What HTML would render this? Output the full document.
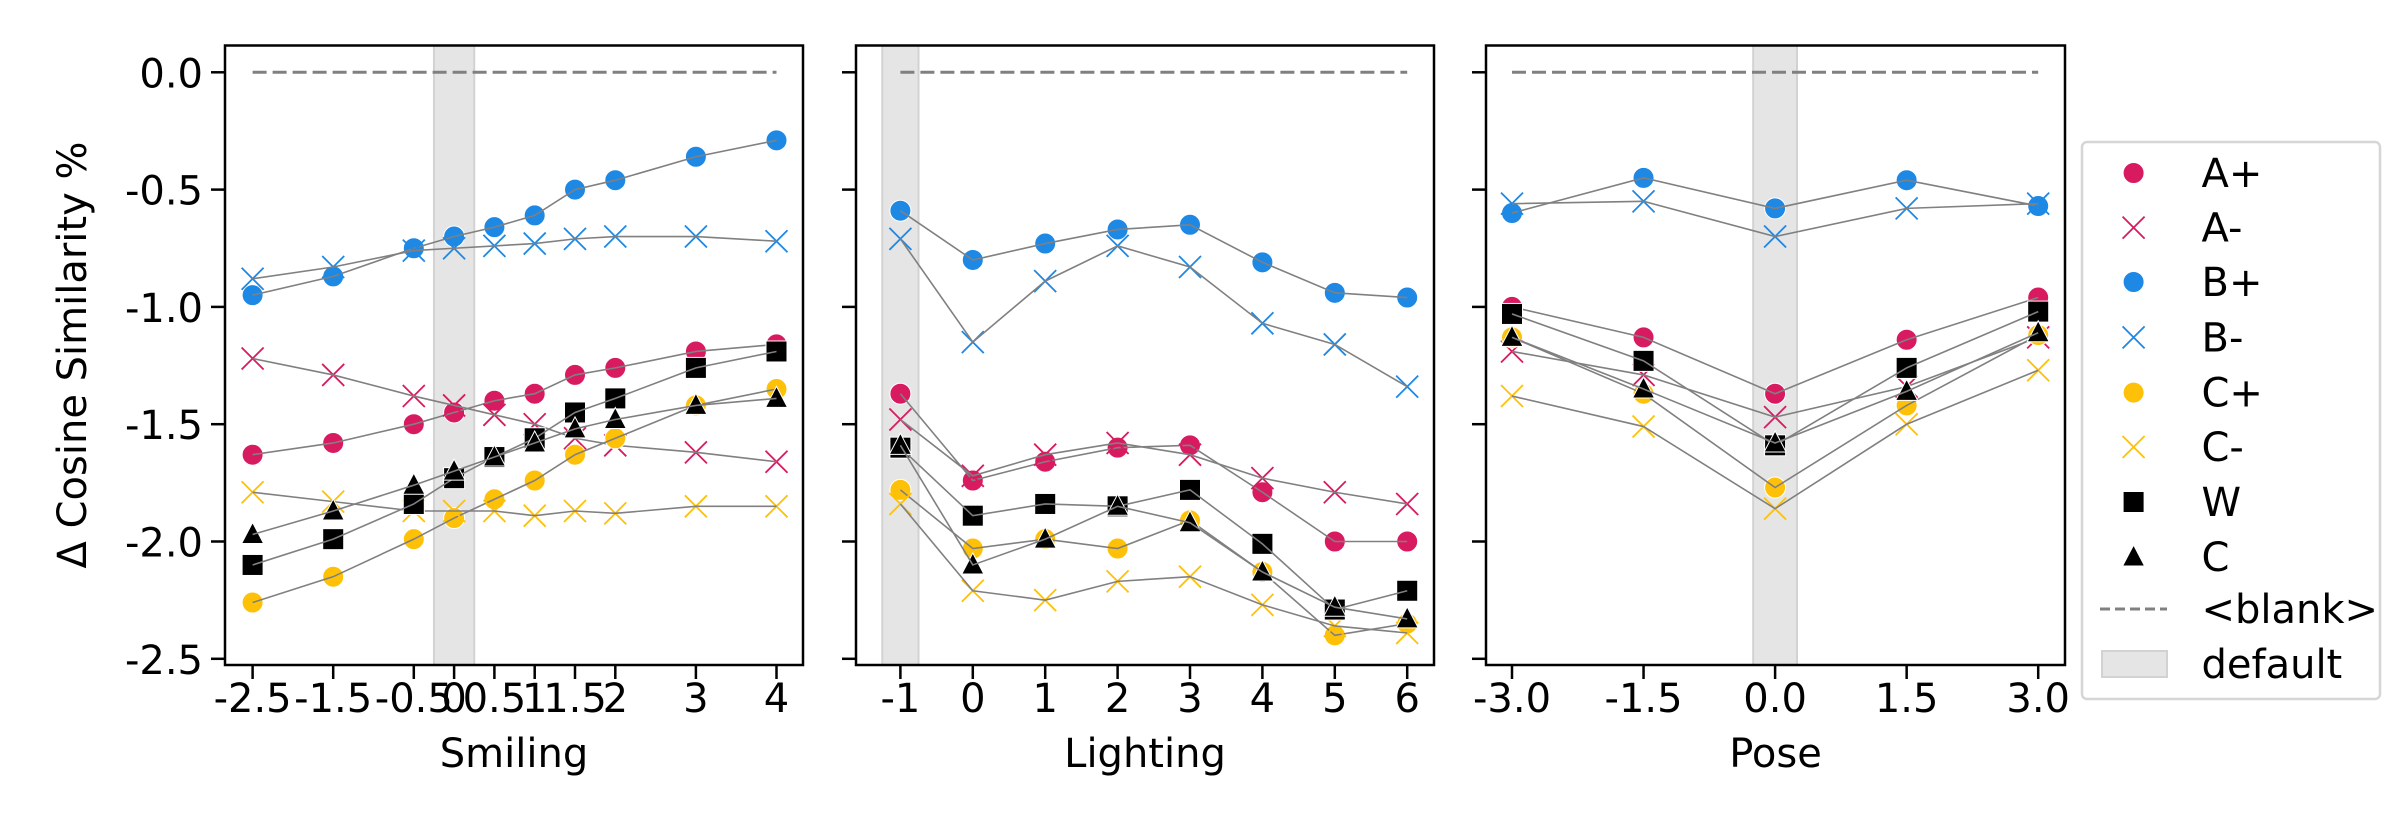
<!DOCTYPE html>
<html><head><meta charset="utf-8">
<style>html,body{margin:0;padding:0;background:#fff;}svg{display:block;}</style></head>
<body>
<svg id="chart" xmlns="http://www.w3.org/2000/svg" width="2400" height="840" viewBox="0 0 2400 840" font-family="'DejaVu Sans','Liberation Sans',sans-serif">
<rect width="2400" height="840" fill="#fff"/>
<text x="0" y="0" transform="translate(86,355) rotate(-90)" font-size="40" text-anchor="middle">Δ Cosine Similarity %</text>
</svg>
<script>
const seriesNames = ["A+","A-","B+","B-","C+","C-","W","C"];
const smilingX = [-2.5,-1.5,-0.5,0,0.5,1,1.5,2,3,4];
const smilingTickLabels = ["-2.5","-1.5","-0.5","0","0.5","1","1.5","2","3","4"];
const smilingAp = [-1.63,-1.58,-1.50,-1.45,-1.40,-1.37,-1.29,-1.26,-1.19,-1.16];
const smilingAm = [-1.22,-1.29,-1.38,-1.42,-1.46,-1.50,-1.56,-1.59,-1.62,-1.66];
const smilingBp = [-0.95,-0.87,-0.75,-0.70,-0.66,-0.61,-0.50,-0.46,-0.36,-0.29];
const smilingBm = [-0.88,-0.83,-0.76,-0.75,-0.74,-0.73,-0.71,-0.70,-0.70,-0.72];
const smilingCp = [-2.26,-2.15,-1.99,-1.90,-1.82,-1.74,-1.63,-1.56,-1.42,-1.35];
const smilingCm = [-1.79,-1.83,-1.87,-1.87,-1.87,-1.89,-1.87,-1.88,-1.85,-1.85];
const smilingW = [-2.10,-1.99,-1.84,-1.73,-1.64,-1.56,-1.45,-1.39,-1.26,-1.19];
const smilingC = [-1.97,-1.87,-1.76,-1.70,-1.64,-1.58,-1.52,-1.48,-1.42,-1.39];
const lightingX = [-1,0,1,2,3,4,5,6];
const lightingTickLabels = ["-1","0","1","2","3","4","5","6"];
const lightingAp = [-1.37,-1.74,-1.66,-1.60,-1.59,-1.79,-2.00,-2.00];
const lightingAm = [-1.48,-1.72,-1.63,-1.58,-1.63,-1.73,-1.79,-1.84];
const lightingBp = [-0.59,-0.80,-0.73,-0.67,-0.65,-0.81,-0.94,-0.96];
const lightingBm = [-0.71,-1.15,-0.89,-0.74,-0.83,-1.07,-1.16,-1.34];
const lightingCp = [-1.78,-2.03,-1.99,-2.03,-1.91,-2.13,-2.40,-2.35];
const lightingCm = [-1.84,-2.21,-2.25,-2.17,-2.15,-2.27,-2.36,-2.39];
const lightingW = [-1.60,-1.89,-1.84,-1.85,-1.78,-2.01,-2.29,-2.21];
const lightingC = [-1.59,-2.10,-1.99,-1.85,-1.92,-2.13,-2.28,-2.33];
const poseX = [-3,-1.5,0,1.5,3];
const poseTickLabels = ["-3.0","-1.5","0.0","1.5","3.0"];
const poseAp = [-1.00,-1.13,-1.37,-1.14,-0.96];
const poseAm = [-1.19,-1.29,-1.47,-1.34,-1.13];
const poseBp = [-0.60,-0.45,-0.58,-0.46,-0.57];
const poseBm = [-0.56,-0.55,-0.70,-0.58,-0.56];
const poseCp = [-1.13,-1.37,-1.77,-1.42,-1.12];
const poseCm = [-1.38,-1.51,-1.86,-1.50,-1.27];
const poseW = [-1.03,-1.23,-1.59,-1.26,-1.02];
const poseC = [-1.13,-1.35,-1.58,-1.36,-1.11];
const yTicks = [0,-0.5,-1,-1.5,-2,-2.5];
const yTickLabels = ["0.0","-0.5","-1.0","-1.5","-2.0","-2.5"];

const svg = document.getElementById('chart');
const NS = 'http://www.w3.org/2000/svg';
function mk(tag, attrs, parent){const e=document.createElementNS(NS,tag);for(const k in attrs)e.setAttribute(k,attrs[k]);(parent||svg).appendChild(e);return e;}
const yScale = v => 72.3 - v*234.6;
const TOP=45.5, BOT=665;
const styles = {"A+":["circle","#d81b60"],"A-":["x","#d81b60"],"B+":["circle","#1e88e5"],"B-":["x","#1e88e5"],"C+":["circle","#ffc107"],"C-":["x","#ffc107"],"W":["square","#000"],"C":["tri","#000"]};

function marker(g,type,color,cx,cy){
  let m;
  if(type==="circle") m=mk('circle',{cx,cy,r:10.5,fill:color,stroke:'#fff','stroke-width':1},g);
  else if(type==="x") m=mk('path',{d:`M${cx-11},${cy-11}L${cx+11},${cy+11}M${cx-11},${cy+11}L${cx+11},${cy-11}`,stroke:color,'stroke-width':1.8,fill:'none'},g);
  else if(type==="square") m=mk('rect',{x:cx-10.5,y:cy-10.5,width:21,height:21,fill:color,stroke:'#fff','stroke-width':1},g);
  else m=mk('path',{d:`M${cx},${cy-12}L${cx+11},${cy+9}L${cx-11},${cy+9}Z`,fill:color,stroke:'#fff','stroke-width':1},g);
  return m;
}

function panel(name,L,R,xs,xScale,labels,data,shade,xtitle,showY){
  const g=mk('g',{});
  
  
  const sh=mk('rect',{x:xScale(shade[0]),y:TOP,width:xScale(shade[1])-xScale(shade[0]),height:BOT-TOP,fill:'#e5e5e5',stroke:'#d2d2d2','stroke-width':2},g);
  
  
  const dl=mk('line',{x1:xScale(xs[0]),x2:xScale(xs[xs.length-1]),y1:yScale(0),y2:yScale(0),stroke:'#808080','stroke-width':3,'stroke-dasharray':'14 6'},g);
  
  
  seriesNames.forEach((s,i)=>{
    const vals=data[i];const [type,color]=styles[s];
    const sg=mk('g',{},g);
    
    
    vals.forEach((v,j)=>{const m=marker(sg,type,color,xScale(xs[j]),yScale(v));
      
      });
    const pl=mk('polyline',{points:vals.map((v,j)=>xScale(xs[j])+','+yScale(v)).join(' '),fill:'none',stroke:'#808080','stroke-width':1.6},sg);
    
    
  });
  mk('rect',{x:L,y:TOP,width:R-L,height:BOT-TOP,fill:'none',stroke:'#000','stroke-width':2.5},g);
  yTicks.forEach((t,i)=>{
    mk('line',{x1:L-14,x2:L,y1:yScale(t),y2:yScale(t),stroke:'#000','stroke-width':2.5},g);
    if(showY){const tx=mk('text',{x:L-22,y:yScale(t)+15,'font-size':40,'text-anchor':'end'},g);tx.textContent=yTickLabels[i];
      
      }
  });
  xs.forEach((x,i)=>{
    mk('line',{x1:xScale(x),x2:xScale(x),y1:BOT,y2:BOT+14,stroke:'#000','stroke-width':2.5},g);
    const tx=mk('text',{x:xScale(x),y:BOT+47,'font-size':40,'text-anchor':'middle'},g);tx.textContent=labels[i];
    
    
  });
  const xt=mk('text',{x:(L+R)/2,y:767,'font-size':40,'text-anchor':'middle'},g);xt.textContent=xtitle;
  
  
}
panel('smiling',225,803,smilingX,v=>252.6+(v+2.5)*80.6,smilingTickLabels,[smilingAp,smilingAm,smilingBp,smilingBm,smilingCp,smilingCm,smilingW,smilingC],[-0.25,0.25],'Smiling',true);
panel('lighting',856,1434,lightingX,v=>900.4+(v+1)*72.4,lightingTickLabels,[lightingAp,lightingAm,lightingBp,lightingBm,lightingCp,lightingCm,lightingW,lightingC],[-1.25,-0.75],'Lighting',false);
panel('pose',1486,2065,poseX,v=>1512+(v+3)*87.7,poseTickLabels,[poseAp,poseAm,poseBp,poseBm,poseCp,poseCm,poseW,poseC],[-0.25,0.25],'Pose',false);

const lg=mk('g',{});


mk('rect',{x:2082,y:142,width:298,height:557,rx:5,fill:'#fff',stroke:'#d6d6d6','stroke-width':2.5},lg);
const rowsY=[173,227.6,282,337.4,392.6,447,502,557,609,664];
const legendLabels=[...seriesNames,"<blank>","default"];
legendLabels.forEach((lab,i)=>{
  const y=rowsY[i];
  const eg=mk('g',{},lg);
  
  
  if(i<8){const [t,c]=styles[lab];marker(eg,t,c,2133.6,y);}
  else if(i===8) mk('line',{x1:2100,x2:2167,y1:y,y2:y,stroke:'#808080','stroke-width':3,'stroke-dasharray':'10 5'},eg);
  else mk('rect',{x:2102,y:y-13,width:65,height:26,fill:'#e5e5e5',stroke:'#d2d2d2','stroke-width':2},eg);
  const tx=mk('text',{x:2201.5,y:y+14,'font-size':40},eg);tx.textContent=lab;
});
</script>
</body></html>
